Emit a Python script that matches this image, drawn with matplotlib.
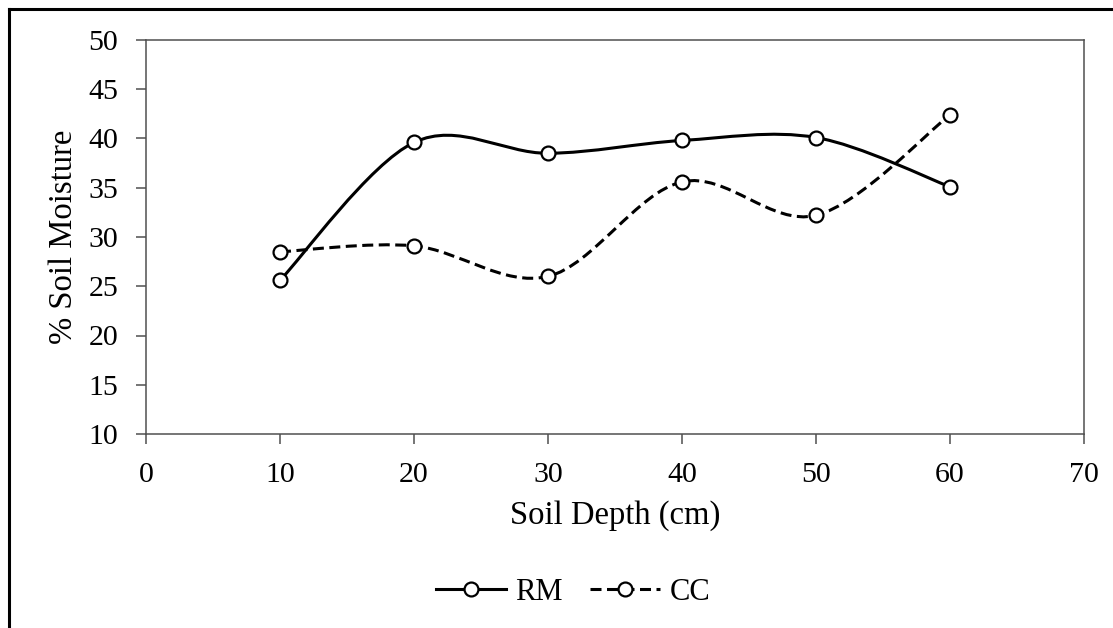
import numpy as np
import matplotlib
matplotlib.use('Agg')
import matplotlib.pyplot as plt
from matplotlib.path import Path
from matplotlib.patches import PathPatch
from matplotlib.lines import Line2D

# Data
depth = [10, 20, 30, 40, 50, 60]
rm = [25.6, 39.6, 38.5, 39.8, 40.1, 35.1]
cc = [28.5, 29.1, 26.0, 35.6, 32.2, 42.4]

plt.rcParams['font.family'] = ['Liberation Serif', 'DejaVu Serif']
FS = 21.5
EDGE = '#505050'


# Excel-like smoothed line: Catmull-Rom as cubic Bezier segments
def smooth_path(x, y):
    pts = np.column_stack([x, y]).astype(float)
    n = len(pts)
    verts = [pts[0]]
    codes = [Path.MOVETO]
    for i in range(n - 1):
        p0 = pts[max(i - 1, 0)]
        p1 = pts[i]
        p2 = pts[i + 1]
        p3 = pts[min(i + 2, n - 1)]
        verts += [p1 + (p2 - p0) / 6, p2 - (p3 - p1) / 6, p2]
        codes += [Path.CURVE4] * 3
    return Path(verts, codes)


fig = plt.figure(figsize=(11.13, 6.28), dpi=100)
ax = fig.add_axes([146 / 1113, 1 - 434 / 628, (1084 - 146) / 1113, (434 - 40) / 628])

for ys, ls, lab in [(rm, '-', 'RM'), (cc, (0, (3.6, 1.8)), 'CC')]:
    ax.add_patch(PathPatch(smooth_path(depth, ys), fill=False, edgecolor='black',
                           linewidth=2.2, linestyle=ls, capstyle='butt', zorder=2))
    ax.plot(depth, ys, linestyle='none', marker='o', markersize=10,
            markerfacecolor='white', markeredgecolor='black', markeredgewidth=1.6, zorder=3)

ax.set_xlim(0, 70)
ax.set_ylim(10, 50)
ax.set_xticks(range(0, 71, 10))
ax.set_yticks(range(10, 51, 5))
for s in ax.spines.values():
    s.set_color(EDGE)
    s.set_linewidth(1.1)
ax.tick_params(direction='out', length=7, width=1.1, color=EDGE, labelsize=FS, pad=13)
ax.set_xlabel('Soil Depth (cm)', fontsize=23.5, labelpad=9)
ax.set_ylabel('% Soil Moisture', fontsize=23.5, labelpad=7)

handles = [
    Line2D([], [], color='black', linewidth=2.2, linestyle='-', marker='o', markersize=10,
           markerfacecolor='white', markeredgecolor='black', markeredgewidth=1.6),
    Line2D([], [], color='black', linewidth=2.2, linestyle=(0, (3.6, 1.8)), marker='o', markersize=10,
           markerfacecolor='white', markeredgecolor='black', markeredgewidth=1.6),
]
fig.legend(handles, ['RM', 'CC'], loc='center', bbox_to_anchor=(573 / 1113, 1 - 592 / 628),
           ncol=2, frameon=False, fontsize=22, handlelength=2.3, handletextpad=0.3,
           columnspacing=0.9)

# outer chart border (top and left, as cropped)
fig.add_artist(Line2D([8.5 / 1113, 1], [1 - 8.5 / 628] * 2, color='black', linewidth=2.2))
fig.add_artist(Line2D([8.5 / 1113] * 2, [0, 1 - 8.5 / 628], color='black', linewidth=2.2))

fig.savefig('out.png', dpi=100)
